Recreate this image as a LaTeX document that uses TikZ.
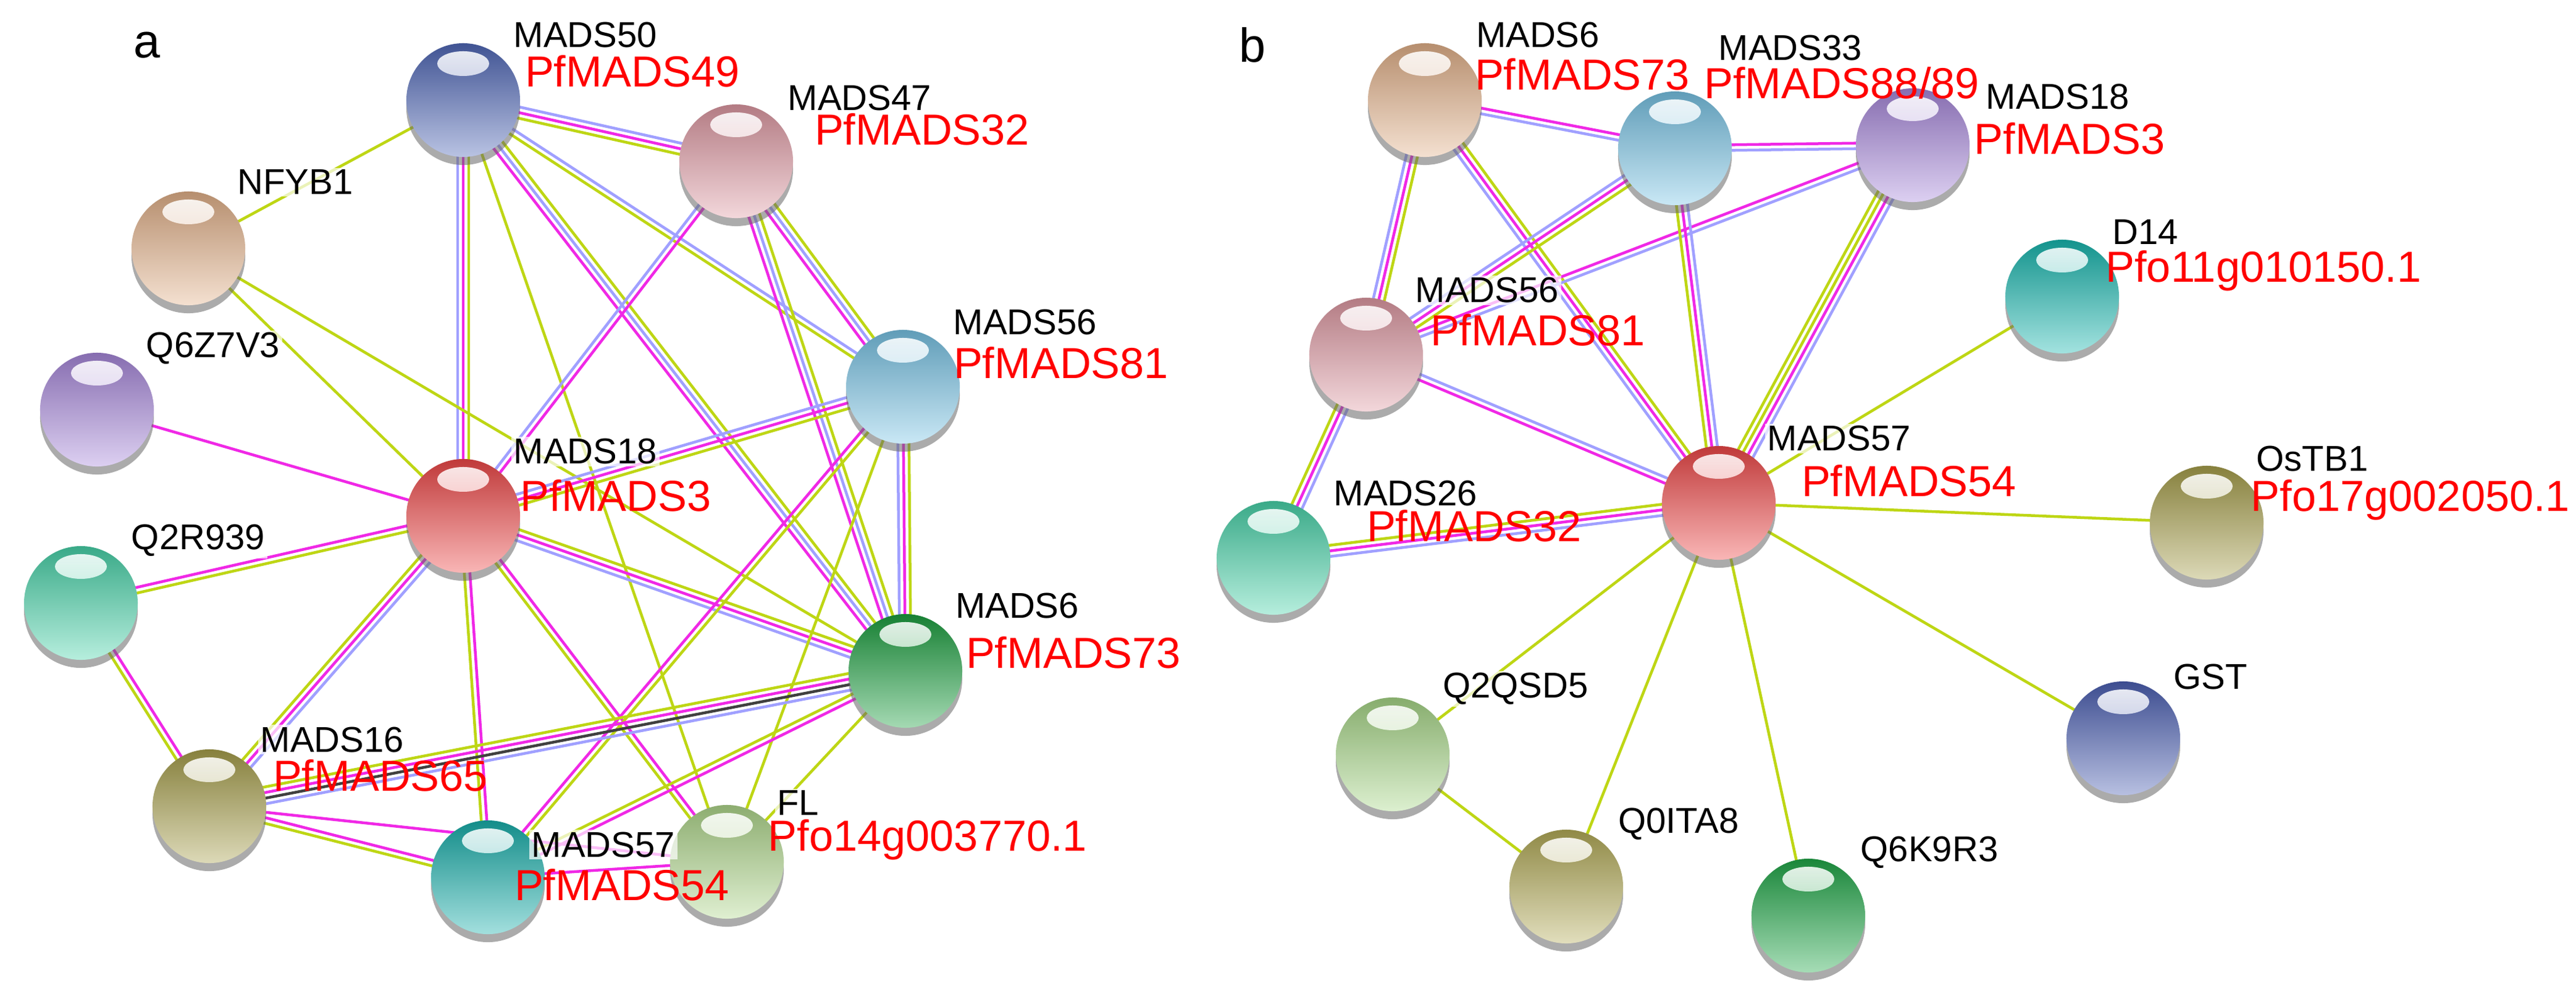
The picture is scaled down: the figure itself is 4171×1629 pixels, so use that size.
\documentclass[tikz,border=0pt]{standalone}
\usepackage{fontspec}
\setmainfont{Liberation Sans}
\usetikzlibrary{calc,shadows}
\newcommand\lk[3]{%
 \gdef\lkn{0}%
 \foreach \c in {#3}{\pgfmathtruncatemacro\t{\lkn+1}\xdef\lkn{\t}}%
 \foreach \c [count=\i] in {#3}{%
  \pgfmathsetmacro\o{(\i-1-(\lkn-1)/2)*0.09}%
  \draw[\c] ($(#1)!\o cm!90:(#2)$) -- ($(#2)!\o cm!-90:(#1)$);}}
\tikzset{
 ly/.style={line width=0.045cm, color={rgb,255:red,190;green,214;blue,20}},
 lm/.style={line width=0.045cm, color={rgb,255:red,240;green,40;blue,230}},
 lb/.style={line width=0.045cm, color={rgb,255:red,160;green,160;blue,255}},
 lk/.style={line width=0.045cm, color=black!75},
 sph/.style={circle, minimum size=1.84cm, inner sep=0pt, draw=none,
   top color=#1!80!black, middle color=#1, bottom color=#1!40!white,
   drop shadow={shadow xshift=0cm, shadow yshift=-0.13cm, opacity=.55, fill=black!60},
   path picture={\shade[top color=white, bottom color=white!40!#1, opacity=0.9] ($(path picture bounding box.north)+(0cm,-0.33cm)$) ellipse (0.42cm and 0.2cm);}},
 bl/.style={font=\fontsize{16.5}{18}\selectfont, text=black, fill=white, fill opacity=0.7, text opacity=1, inner sep=1pt},
 rl/.style={font=\fontsize{20}{22}\selectfont, text=red, inner sep=1pt},
}
\definecolor{c50}{HTML}{5068B8}\definecolor{c47}{HTML}{E09AA4}
\definecolor{cnf}{HTML}{E4B28A}\definecolor{cq6}{HTML}{A888DC}
\definecolor{c18}{HTML}{F04848}\definecolor{c56}{HTML}{78C4E6}
\definecolor{cq2}{HTML}{48D4AA}\definecolor{c6}{HTML}{1CA040}
\definecolor{c16}{HTML}{A8A04C}\definecolor{c57}{HTML}{18B0AC}
\definecolor{cfl}{HTML}{B0D88C}\definecolor{cd14}{HTML}{18B8B0}
\definecolor{cgst}{HTML}{4C60B4}\definecolor{cqs}{HTML}{A8D888}
\definecolor{cq0}{HTML}{B4AC58}\definecolor{cq6k}{HTML}{20A848}
\begin{document}
\begin{tikzpicture}[x=0.01cm,y=-0.01cm]
\useasboundingbox[fill=white] (0,0) rectangle (4171,1629);
% panel a coordinates
\coordinate (a50) at (750,162);
\coordinate (a47) at (1192,261);
\coordinate (anf) at (305,402);
\coordinate (aq6) at (157,663);
\coordinate (a18) at (750,835);
\coordinate (a56) at (1462,626);
\coordinate (aq2) at (131,976);
\coordinate (a6) at (1466,1086);
\coordinate (a16) at (339,1305);
\coordinate (a57) at (790,1420);
\coordinate (afl) at (1177,1395);
% panel b coordinates
\coordinate (b6) at (2307,162);
\coordinate (b33) at (2712,240);
\coordinate (b18) at (3097,235);
\coordinate (bd14) at (3339,480);
\coordinate (b56) at (2212,574);
\coordinate (b57) at (2783,814);
\coordinate (b26) at (2062,903);
\coordinate (bos) at (3573,846);
\coordinate (bgst) at (3438,1195);
\coordinate (bqs) at (2255,1221);
\coordinate (bq0) at (2536,1435);
\coordinate (bq6) at (2928,1482);
% panel a edges
\lk{a50}{anf}{ly}
\lk{a50}{a47}{ly,lm,lb}
\lk{a50}{a18}{lb,lm,ly}
\lk{a50}{a56}{ly,lb}
\lk{a50}{a6}{lm,lb,ly}
\lk{a50}{afl}{ly}
\lk{a47}{a18}{lb,lm}
\lk{a47}{a56}{lm,lb,ly}
\lk{a47}{a6}{lm,lb,ly}
\lk{anf}{a18}{ly}
\lk{anf}{a6}{ly}
\lk{aq6}{a18}{lm}
\lk{aq2}{a18}{ly,lm}
\lk{aq2}{a16}{ly,lm}
\lk{a18}{a56}{ly,lm,lb}
\lk{a18}{a6}{lb,lm,ly}
\lk{a18}{a16}{ly,lm,lb}
\lk{a18}{a57}{ly,lm}
\lk{a18}{afl}{ly,lm}
\lk{a56}{a6}{lb,lm,ly}
\lk{a56}{a57}{lm,ly}
\lk{a56}{afl}{ly}
\lk{a6}{a16}{ly,lm,lk,lb}
\lk{a6}{a57}{ly,lm}
\lk{a6}{afl}{ly}
\lk{a16}{a57}{ly,lm}
\lk{a16}{afl}{lm}
\lk{a57}{afl}{lm}
% panel b edges
\lk{b6}{b33}{lb,lm}
\lk{b33}{b18}{lb,lm}
\lk{b6}{b56}{lb,lm,ly}
\lk{b6}{b57}{lb,lm,ly}
\lk{b33}{b56}{lb,lm,ly}
\lk{b18}{b56}{lm,lb}
\lk{b33}{b57}{ly,lm,lb}
\lk{b18}{b57}{ly,ly,lm,lb}
\lk{b56}{b57}{lm,lb}
\lk{b56}{b26}{ly,lm,lb}
\lk{b26}{b57}{lb,lm,ly}
\lk{b57}{bd14}{ly}
\lk{b57}{bos}{ly}
\lk{b57}{bgst}{ly}
\lk{b57}{bq6}{ly}
\lk{b57}{bq0}{ly}
\lk{b57}{bqs}{ly}
\lk{bqs}{bq0}{ly}
% spheres a
\node[sph=c50] (n50) at (a50) {};
\node[sph=c47] (n47) at (a47) {};
\node[sph=cnf] (nnf) at (anf) {};
\node[sph=cq6] (nq6) at (aq6) {};
\node[sph=c18] (n18) at (a18) {};
\node[sph=c56] (n56) at (a56) {};
\node[sph=cq2] (nq2) at (aq2) {};
\node[sph=c6] (n6) at (a6) {};
\node[sph=c16] (n16) at (a16) {};
\node[sph=c57] (n57) at (a57) {};
\node[sph=cfl] (nfl) at (afl) {};
% spheres b
\node[sph=cnf] (m6) at (b6) {};
\node[sph=c56] (m33) at (b33) {};
\node[sph=cq6] (m18) at (b18) {};
\node[sph=cd14] (md14) at (bd14) {};
\node[sph=c47] (m56) at (b56) {};
\node[sph=c18] (m57) at (b57) {};
\node[sph=cq2] (m26) at (b26) {};
\node[sph=c16] (mos) at (bos) {};
\node[sph=cgst] (mgst) at (bgst) {};
\node[sph=cqs] (mqs) at (bqs) {};
\node[sph=cq0] (mq0) at (bq0) {};
\node[sph=cq6k] (mq6) at (bq6) {};
% labels a
\node[font=\fontsize{22}{24}\selectfont] (la) at (238,73) {a};
\node[bl] (t1) at (948,57) {MADS50};
\node[rl] (r1) at (1024,115) {PfMADS49};
\node[bl] (t2) at (1392,159) {MADS47};
\node[rl] (r2) at (1493,209) {PfMADS32};
\node[bl] (t3) at (478,295) {NFYB1};
\node[bl] (t4) at (345,564) {Q6Z7V3};
\node[bl] (t5) at (948,731) {MADS18};
\node[rl] (r5) at (997,802) {PfMADS3};
\node[bl] (t6) at (1660,522) {MADS56};
\node[rl] (r6) at (1718,587) {PfMADS81};
\node[bl] (t7) at (321,875) {Q2R939};
\node[bl] (t8) at (1647,981) {MADS6};
\node[rl] (r8) at (1738,1056) {PfMADS73};
\node[bl] (t9) at (538,1197) {MADS16};
\node[rl] (r9) at (616,1255) {PfMADS65};
\node[bl] (t10) at (1292,1300) {FL};
\node[rl] (r10) at (1502,1359) {Pfo14g003770.1};
\node[bl] (t11) at (977,1367) {MADS57};
\node[rl] (r11) at (1007,1432) {PfMADS54};
% labels b
\node[font=\fontsize{22}{24}\selectfont] (lb) at (2028,73) {b};
\node[bl] (s1) at (2490,57) {MADS6};
\node[rl] (q1) at (2562,120) {PfMADS73};
\node[bl] (s2) at (2899,78) {MADS33};
\node[rl] (q2) at (2982,134) {PfMADS88/89};
\node[bl] (s3) at (3332,157) {MADS18};
\node[rl] (q3) at (3351,224) {PfMADS3};
\node[bl] (s4) at (3474,376) {D14};
\node[rl] (q4) at (3665,438) {Pfo11g010150.1};
\node[bl] (s5) at (2408,470) {MADS56};
\node[rl] (q5) at (2490,534) {PfMADS81};
\node[bl] (s6) at (2978,710) {MADS57};
\node[rl] (q6) at (3091,778) {PfMADS54};
\node[bl] (s7) at (2276,799) {MADS26};
\node[rl] (q7) at (2387,851) {PfMADS32};
\node[bl] (s8) at (3744,743) {OsTB1};
\node[rl] (q8) at (3903,809) {Pfo17g002050.1};
\node[bl] (s9) at (3579,1096) {GST};
\node[bl] (s10) at (2454,1115) {Q2QSD5};
\node[bl] (s11) at (2718,1334) {Q0ITA8};
\node[bl] (s12) at (3124,1380) {Q6K9R3};
\end{tikzpicture}
\end{document}
